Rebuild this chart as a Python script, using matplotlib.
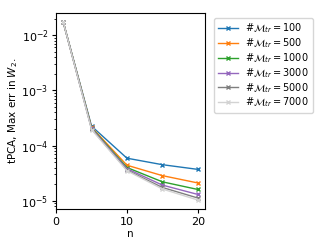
import matplotlib
matplotlib.use('Agg')
import matplotlib.pyplot as plt

n_values = [1, 5, 10, 15, 20]
train_sizes = [100, 500, 1000, 3000, 5000, 7000]

err_100 = [1.75e-2, 2.25e-4, 5.9e-5, 4.5e-5, 3.7e-5]
err_500 = [1.75e-2, 2.15e-4, 4.4e-5, 2.85e-5, 2.1e-5]
err_1000 = [1.75e-2, 2.1e-4, 4.0e-5, 2.2e-5, 1.6e-5]
err_3000 = [1.75e-2, 2.05e-4, 3.8e-5, 1.92e-5, 1.3e-5]
err_5000 = [1.75e-2, 2.0e-4, 3.6e-5, 1.74e-5, 1.12e-5]
err_7000 = [1.75e-2, 1.95e-4, 3.5e-5, 1.63e-5, 1.03e-5]

errors = [err_100, err_500, err_1000, err_3000, err_5000, err_7000]
colors = ['tab:blue', 'tab:orange', 'tab:green', 'tab:purple', 'tab:gray', 'lightgray']

fig = plt.figure(figsize=(3.32, 2.49), dpi=100)
ax = fig.add_axes([0.169, 0.161, 0.448, 0.787])

for size, err, c in zip(train_sizes, errors, colors):
    ax.plot(n_values, err, marker='x', color=c, linewidth=1.0, markersize=3.5,
            label=r'#$\mathcal{M}_{tr} = %d$' % size)

ax.set_yscale('log')
ax.set_xlim(0, 21)
ax.set_xlabel('n', fontsize=7.5, labelpad=2)
ax.set_ylabel(r'tPCA, Max err in $W_2$.', fontsize=7.5, labelpad=1)
ax.tick_params(labelsize=8, length=3, pad=2.5)
ax.tick_params(which='minor', length=1.8)
ax.legend(loc='upper left', bbox_to_anchor=(1.03, 1.0), fontsize=7,
          labelspacing=0.1)

plt.savefig('out.png', dpi=100)
plt.close()
